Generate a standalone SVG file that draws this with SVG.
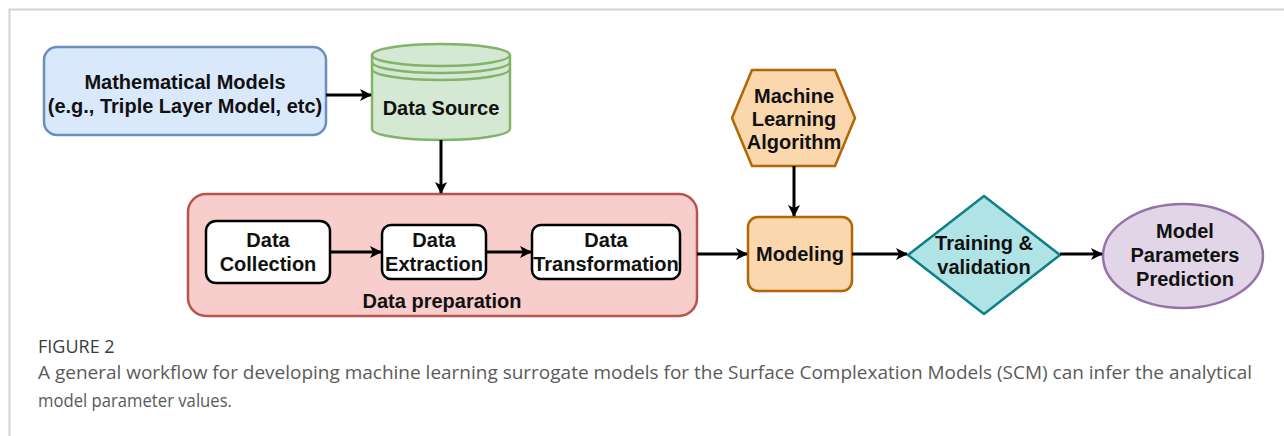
<svg xmlns="http://www.w3.org/2000/svg" width="1284" height="436" viewBox="0 0 1284 436">
<defs>
<marker id="ah" viewBox="0 0 12 12" refX="11" refY="6" markerWidth="12" markerHeight="12" markerUnits="userSpaceOnUse" orient="auto">
<path d="M0,0 L12,6 L0,12 L3,6 Z" fill="#000"/>
</marker>
<style>
.t{font-family:"Liberation Sans",Arial,sans-serif;font-weight:bold;font-size:20px;fill:#111;text-anchor:middle}
.c{stroke:#000;stroke-width:3;fill:none;marker-end:url(#ah)}
.cap{font-family:"Open Sans","Noto Sans",sans-serif;fill:#5a5a5a;font-size:18px}
</style>
</defs>
<rect width="1284" height="436" fill="#fff"/>
<path d="M9.5,436 V9.5 H1284" fill="none" stroke="#d4d4d4" stroke-width="2"/>

<g id="math-models">
<rect x="44" y="47" width="282" height="88" rx="13" fill="#dae8fc" stroke="#6c8ebf" stroke-width="2.5"/>
<text class="t" x="185" y="89">Mathematical Models</text>
<text class="t" x="185" y="113">(e.g., Triple Layer Model, etc)</text>
</g>

<g id="data-source">
<path d="M372,55 V129 A69,11 0 0 0 510,129 V55 A69,11 0 0 0 372,55 Z" fill="#d5e8d4" stroke="#82b366" stroke-width="2.5"/>
<path d="M372,55 A69,11 0 0 0 510,55 M372,62 A69,11 0 0 0 510,62 M372,69 A69,11 0 0 0 510,69" fill="none" stroke="#82b366" stroke-width="2.5"/>
<text class="t" x="441" y="115">Data Source</text>
</g>

<g id="data-preparation">
<rect x="188" y="194" width="509" height="122" rx="18" fill="#f8cecc" stroke="#b85450" stroke-width="2.5"/>
<text class="t" x="442" y="308">Data preparation</text>
</g>

<g id="data-collection">
<rect x="206" y="221" width="124" height="62" rx="10" fill="#fff" stroke="#000" stroke-width="2.5"/>
<text class="t" x="268" y="247">Data</text>
<text class="t" x="268" y="271">Collection</text>
</g>

<g id="data-extraction">
<rect x="382" y="225" width="104" height="54" rx="9" fill="#fff" stroke="#000" stroke-width="2.5"/>
<text class="t" x="434" y="247">Data</text>
<text class="t" x="434" y="271">Extraction</text>
</g>

<g id="data-transformation">
<rect x="532" y="225" width="148" height="54" rx="9" fill="#fff" stroke="#000" stroke-width="2.5"/>
<text class="t" x="606" y="247">Data</text>
<text class="t" x="606" y="271">Transformation</text>
</g>

<g id="ml-algorithm">
<path d="M752,70 H835 L855,118 L835,166 H752 L732,118 Z" fill="#fad7ac" stroke="#b46504" stroke-width="2.5"/>
<text class="t" x="794" y="103">Machine</text>
<text class="t" x="794" y="126">Learning</text>
<text class="t" x="794" y="149">Algorithm</text>
</g>

<g id="modeling">
<rect x="748" y="217" width="104" height="74" rx="10" fill="#fad7ac" stroke="#b46504" stroke-width="2.5"/>
<text class="t" x="800" y="261">Modeling</text>
</g>

<g id="training-validation">
<path d="M984,196 L1060,255 L984,314 L908,255 Z" fill="#b0e3e6" stroke="#0e8088" stroke-width="2.5" stroke-linejoin="round"/>
<text class="t" x="984" y="250">Training &amp;</text>
<text class="t" x="984" y="274">validation</text>
</g>

<g id="prediction">
<ellipse cx="1183" cy="256" rx="80" ry="52" fill="#e1d5e7" stroke="#9673a6" stroke-width="2.5"/>
<text class="t" x="1185" y="238">Model</text>
<text class="t" x="1185" y="262">Parameters</text>
<text class="t" x="1185" y="286">Prediction</text>
</g>

<g id="connectors">
<path class="c" d="M326,95 H371"/>
<path class="c" d="M441,140 V193"/>
<path class="c" d="M330,252 H381"/>
<path class="c" d="M486,252 H531"/>
<path class="c" d="M697,254 H747"/>
<path class="c" d="M794,166 V216"/>
<path class="c" d="M852,254 H907"/>
<path class="c" d="M1060,254 H1102"/>
</g>

<g id="caption">
<text class="cap" x="38" y="353" fill="#444" style="fill:#3c3c3c">FIGURE 2</text>
<text class="cap" x="38" y="379" textLength="1214" lengthAdjust="spacingAndGlyphs">A general workflow for developing machine learning surrogate models for the Surface Complexation Models (SCM) can infer the analytical</text>
<text class="cap" x="38" y="407" textLength="194" lengthAdjust="spacingAndGlyphs">model parameter values.</text>
</g>
</svg>
